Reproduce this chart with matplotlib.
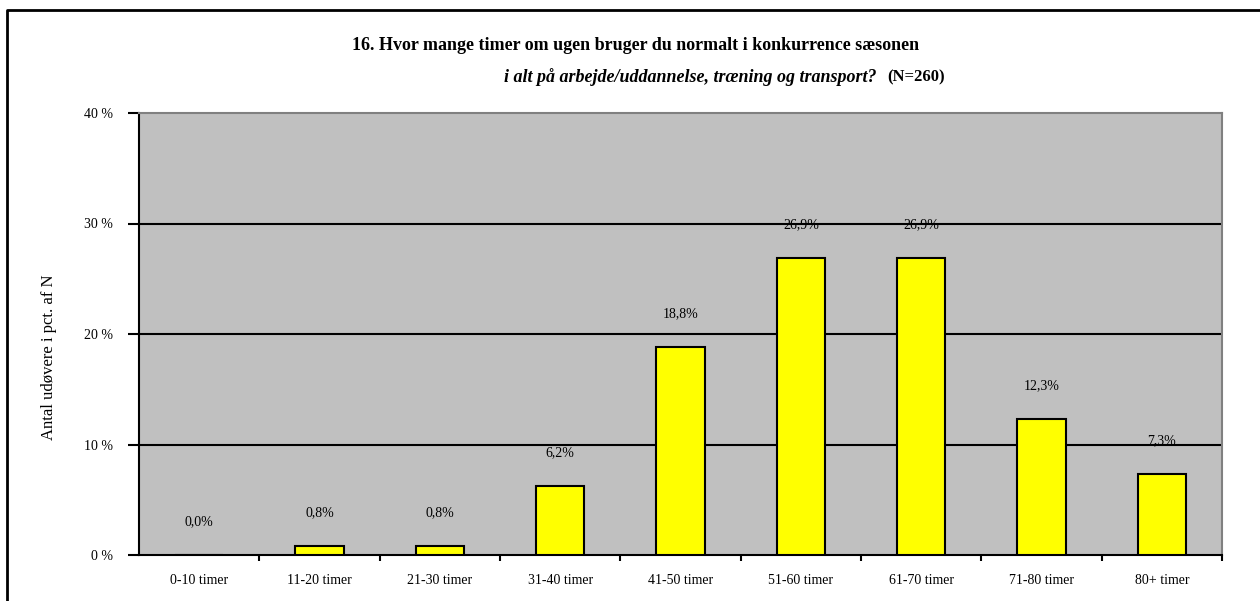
import matplotlib
matplotlib.use("Agg")
import matplotlib.pyplot as plt
from matplotlib.lines import Line2D

plt.rcParams['font.family'] = ['Liberation Serif', 'DejaVu Serif']

# data
categories = ["0-10 timer", "11-20 timer", "21-30 timer", "31-40 timer", "41-50 timer",
              "51-60 timer", "61-70 timer", "71-80 timer", "80+ timer"]
values = [0.0, 0.8, 0.8, 6.2, 18.8, 26.9, 26.9, 12.3, 7.3]
value_labels = ["0,0%", "0,8%", "0,8%", "6,2%", "18,8%", "26,9%", "26,9%", "12,3%", "7,3%"]
yticks = [0, 10, 20, 30, 40]
ytick_labels = ["0 %", "10 %", "20 %", "30 %", "40 %"]

fig = plt.figure(figsize=(12.6, 6.01), dpi=100)
ax = fig.add_axes([139 / 1260, 1 - 555 / 601, (1222 - 139) / 1260, (555 - 113) / 601])
ax.set_facecolor("#C0C0C0")

x = list(range(len(categories)))
ax.bar(x, values, width=0.4, color="#FFFF00", edgecolor="black", linewidth=1.5, zorder=3)

# value labels above bars
for xi, v, lab in zip(x, values, value_labels):
    ax.annotate(lab, (xi, v), xytext=(0, 24), textcoords="offset points",
                ha="center", va="center", fontsize=10, zorder=4)

ax.set_xlim(-0.5, len(categories) - 0.5)
ax.set_ylim(0, 40)
ax.set_yticks(yticks)
ax.set_yticklabels(ytick_labels, fontsize=10)
ax.tick_params(axis="y", direction="out", length=8, width=1.5, pad=11)

# ticks on category boundaries, labels centered in categories
ax.set_xticks([i + 0.5 for i in x])
ax.set_xticklabels([])
ax.tick_params(axis="x", which="major", direction="out", length=4, width=1.5)
ax.set_xticks(x, minor=True)
ax.set_xticklabels(categories, minor=True, fontsize=10)
ax.tick_params(axis="x", which="minor", length=0, pad=14)

for yv in yticks[1:-1]:
    ax.axhline(yv, color="black", linewidth=1.5, zorder=2)

ax.spines["left"].set_linewidth(1.5)
ax.spines["bottom"].set_linewidth(1.5)
for side in ["top", "right"]:
    ax.spines[side].set_color("#808080")
    ax.spines[side].set_linewidth(1.5)

ax.set_ylabel("Antal udøvere i pct. af N", fontsize=12)
ax.yaxis.set_label_coords(57 / 1260, 1 - 357 / 601, transform=fig.transFigure)

# title
fig.text(636 / 1260, 1 - 46 / 601,
         "16. Hvor mange timer om ugen bruger du normalt i konkurrence sæsonen",
         ha="center", va="center", fontsize=13, fontweight="bold")
fig.text(877 / 1260, 1 - 77 / 601,
         "i alt på arbejde/uddannelse, træning og transport?",
         ha="right", va="center", fontsize=13, fontweight="bold", style="italic")
fig.text(887 / 1260, 1 - 77 / 601, "(N=260)",
         ha="left", va="center", fontsize=12, fontweight="bold")

# outer frame
fig.add_artist(Line2D([7 / 1260, 7 / 1260, 1], [0, 1 - 10 / 601, 1 - 10 / 601],
                      transform=fig.transFigure, color="black", linewidth=2))

fig.savefig("out.png", dpi=100)
